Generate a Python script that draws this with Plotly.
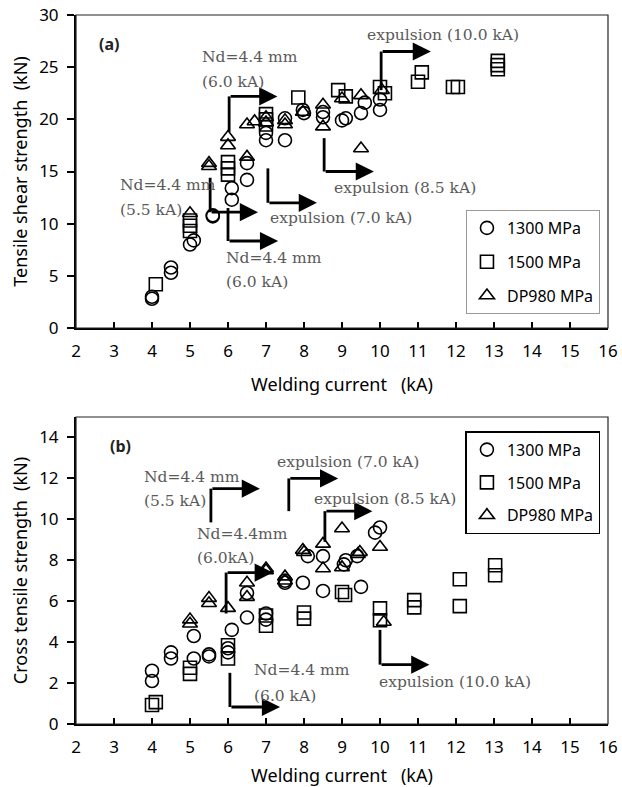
import plotly.graph_objects as go

# ---------------- data: panel (a) tensile shear strength ----------------
a_1300_x = [4.0, 4.0, 4.5, 4.5, 5.0, 5.1, 5.6, 5.6, 6.1, 6.1, 6.5, 6.5, 7.0, 7.0, 7.5, 7.5,
            7.97, 8.0, 8.5, 8.5, 9.0, 9.1, 9.5, 9.6, 10.0, 10.0]
a_1300_y = [3.0, 2.8, 5.8, 5.3, 8.0, 8.4, 10.7, 10.8, 13.4, 12.3, 14.2, 15.8, 18.0, 18.7, 18.0, 20.1,
            20.9, 20.6, 20.2, 20.7, 19.9, 20.1, 20.6, 21.6, 20.9, 21.9]

a_1500_x = [4.1, 5.0, 5.0, 5.0, 6.0, 6.0, 6.0, 7.0, 7.0, 7.0, 7.85, 8.9, 9.1, 10.0, 10.13,
            11.0, 11.1, 11.92, 12.05, 13.1, 13.1, 13.1]
a_1500_y = [4.2, 10.3, 9.8, 9.3, 15.9, 15.3, 14.7, 20.5, 20.0, 19.5, 22.1, 22.8, 22.2, 23.1, 22.5,
            23.6, 24.5, 23.1, 23.1, 25.6, 25.2, 24.8]

a_dp980_x = [5.0, 5.5, 5.5, 6.0, 6.0, 6.5, 6.5, 6.7, 7.0, 7.0, 7.5, 7.5, 7.97, 8.5, 8.5,
             9.0, 9.5, 9.5, 10.05]
a_dp980_y = [11.0, 15.8, 15.5, 18.3, 17.5, 16.4, 19.5, 19.8, 20.2, 19.7, 19.9, 19.5, 20.7, 21.4, 19.3,
             22.0, 22.3, 17.2, 22.8]

# ---------------- data: panel (b) cross tensile strength ----------------
b_1300_x = [4.0, 4.0, 4.5, 4.5, 5.1, 5.1, 5.5, 5.5, 6.0, 6.0, 6.1, 6.5, 6.5, 7.0, 7.0, 7.5, 7.5,
            7.97, 8.1, 8.5, 8.5, 9.05, 9.1, 9.4, 9.5, 9.87, 10.0]
b_1300_y = [2.6, 2.1, 3.5, 3.2, 4.3, 3.2, 3.4, 3.3, 3.7, 3.5, 4.6, 5.2, 6.4, 5.4, 5.1, 7.0, 6.9,
            6.9, 8.2, 8.2, 6.5, 7.8, 8.0, 8.2, 6.7, 9.35, 9.6]

b_1500_x = [4.0, 4.1, 5.0, 5.0, 6.0, 6.0, 7.0, 7.0, 8.0, 8.0, 9.0, 9.08, 10.0, 10.0, 10.9, 10.9,
            12.1, 12.1, 13.03, 13.03]
b_1500_y = [0.93, 1.07, 2.75, 2.45, 3.85, 3.2, 5.3, 4.8, 5.45, 5.15, 6.45, 6.3, 5.65, 5.07, 6.05, 5.7,
            7.07, 5.76, 7.76, 7.27]

b_dp980_x = [5.0, 5.0, 5.5, 5.5, 6.0, 6.5, 6.5, 7.0, 7.0, 7.5, 7.5, 7.97, 8.0, 8.5, 8.5, 9.0, 9.0,
             9.42, 9.47, 10.0, 10.1]
b_dp980_y = [5.1, 4.9, 6.15, 5.9, 5.66, 6.9, 6.2, 7.6, 7.5, 7.2, 7.0, 8.5, 8.4, 8.8, 7.6, 9.55, 7.65,
             8.3, 8.4, 8.65, 4.98]

series_names = ["1300 MPa", "1500 MPa", "DP980 MPa"]
x_ticks = list(range(2, 17))
ya_ticks = [0, 5, 10, 15, 20, 25, 30]
yb_ticks = [0, 2, 4, 6, 8, 10, 12, 14]

# L-shaped arrows: (x_start, y_start, y_corner, x_tip)
a_arrows = [(6.03, 18.8, 22.2, 7.3), (10.03, 22.8, 26.5, 11.34), (8.53, 18.2, 15.0, 9.84),
            (7.05, 15.3, 12.0, 8.34), (5.53, 14.4, 11.1, 6.79), (6.0, 11.5, 8.34, 7.32)]
b_arrows = [(5.55, 9.85, 11.5, 6.84), (7.6, 10.4, 12.0, 8.9), (8.55, 8.9, 10.4, 9.8),
            (5.95, 5.4, 7.4, 7.18), (6.05, 2.5, 0.83, 7.37), (10.0, 4.6, 2.9, 11.3)]

# note labels: (text, x_left, y_center)
a_notes = [("Nd=4.4 mm", 5.26, 26.0), ("(6.0 kA)", 5.26, 23.6),
           ("expulsion (10.0 kA)", 9.6, 28.1), ("expulsion (8.5 kA)", 8.74, 13.4),
           ("expulsion (7.0 kA)", 7.05, 10.55), ("Nd=4.4 mm", 3.1, 13.7), ("(5.5 kA)", 3.1, 11.3),
           ("Nd=4.4 mm", 5.9, 6.7), ("(6.0 kA)", 5.9, 4.4)]
b_notes = [("Nd=4.4 mm", 3.74, 12.05), ("(5.5 kA)", 3.74, 10.9),
           ("expulsion (7.0 kA)", 7.24, 12.8), ("expulsion (8.5 kA)", 8.21, 11.0),
           ("Nd=4.4mm", 5.13, 9.3), ("(6.0kA)", 5.13, 8.1),
           ("Nd=4.4 mm", 6.63, 2.63), ("(6.0 kA)", 6.63, 1.37),
           ("expulsion (10.0 kA)", 9.92, 2.05)]

SANS = "Noto Sans"
SERIF = "DejaVu Serif"
symbols = ["circle-open", "square-open", "triangle-up-open"]
A_DOMAIN = [0.5585, 1]
B_DOMAIN = [0, 0.433]

fig = go.Figure()

panels = [
    ("x", "y", "legend", [(a_1300_x, a_1300_y), (a_1500_x, a_1500_y), (a_dp980_x, a_dp980_y)]),
    ("x2", "y2", "legend2", [(b_1300_x, b_1300_y), (b_1500_x, b_1500_y), (b_dp980_x, b_dp980_y)]),
]
for xa, ya, lg, sets in panels:
    for i, (xs, ys) in enumerate(sets):
        fig.add_trace(go.Scatter(
            x=xs, y=ys, mode="markers", name=series_names[i],
            xaxis=xa, yaxis=ya, legend=lg, legendgroup=lg + str(i),
            marker=dict(symbol=symbols[i], size=13, color="black",
                        line=dict(width=1.6, color="black")),
        ))

shapes = []
annotations = []
for xr, yr, arrows, notes, dom in [("x", "y", a_arrows, a_notes, A_DOMAIN),
                                   ("x2", "y2", b_arrows, b_notes, B_DOMAIN)]:
    for x0, y0, y1, x2 in arrows:
        shapes.append(dict(type="line", xref=xr, yref=yr, x0=x0, y0=y0, x1=x0, y1=y1,
                           opacity=1, layer="above", line=dict(color="black", width=2.8)))
        annotations.append(dict(xref=xr, yref=yr, axref=xr, ayref=yr, x=x2, y=y1, ax=x0, ay=y1,
                                text="", showarrow=True, arrowhead=2, arrowsize=1.3,
                                arrowwidth=2.8, arrowcolor="black", standoff=0, startstandoff=0))
    for t, x, y in notes:
        annotations.append(dict(xref=xr, yref=yr, x=x, y=y, text=t, showarrow=False,
                                xanchor="left", yanchor="middle",
                                font=dict(family=SERIF, size=15.5, color="#5a5a5a")))
    # thin frame (top/right edges) around each panel
    shapes.append(dict(type="rect", xref="paper", yref="paper",
                       x0=0, x1=1, y0=dom[0], y1=dom[1], opacity=1, layer="above",
                       fillcolor="rgba(0,0,0,0)", line=dict(color="#222", width=1.2)))

annotations.append(dict(xref="x", yref="y", x=2.87, y=27.2, text="<b>(a)</b>", showarrow=False,
                        font=dict(family=SANS, size=16, color="#222")))
annotations.append(dict(xref="x2", yref="y2", x=3.16, y=13.6, text="<b>(b)</b>", showarrow=False,
                        font=dict(family=SANS, size=16, color="#222")))

xcommon = dict(range=[2, 16], tickvals=x_ticks, ticks="inside", ticklen=6, tickwidth=2,
               tickcolor="black", showline=True, linecolor="black", linewidth=2, showgrid=False,
               zeroline=False, automargin=False, ticklabeloverflow="allow",
               tickfont=dict(family=SANS, size=17, color="black"), ticklabelstandoff=7)
ycommon = dict(ticks="outside", ticklen=7, tickwidth=2, tickcolor="black", showline=True,
               linecolor="black", linewidth=2, showgrid=False, zeroline=False, automargin=False,
               ticklabeloverflow="allow",
               tickfont=dict(family=SANS, size=17, color="black"), ticklabelstandoff=5)

fig.update_layout(
    width=622, height=787, template="none", paper_bgcolor="white", plot_bgcolor="white",
    margin=dict(l=76, r=14, t=15, b=63),
    font=dict(family=SANS, color="black"),
    xaxis=dict(domain=[0, 1], anchor="y", **xcommon,
               title=dict(text="Welding current\u00a0\u00a0\u00a0(kA)",
                          font=dict(family=SANS, size=18, color="black"), standoff=17)),
    yaxis=dict(domain=A_DOMAIN, anchor="x", range=[0, 30], tickvals=ya_ticks, **ycommon,
               title=dict(text="Tensile shear strength\u00a0\u00a0(kN)",
                          font=dict(family=SANS, size=18, color="black"), standoff=7)),
    xaxis2=dict(domain=[0, 1], anchor="y2", **xcommon,
                title=dict(text="Welding current\u00a0\u00a0\u00a0(kA)",
                           font=dict(family=SANS, size=18, color="black"), standoff=12)),
    yaxis2=dict(domain=B_DOMAIN, anchor="x2", range=[0, 15], tickvals=yb_ticks, **ycommon,
                title=dict(text="Cross tensile strength\u00a0\u00a0(kN)",
                           font=dict(family=SANS, size=18, color="black"), standoff=7)),
    legend=dict(x=0.733, y=0.725, xanchor="left", yanchor="top", bordercolor="#999",
                borderwidth=1, font=dict(family=SANS, size=16, color="black"),
                tracegroupgap=10, bgcolor="white", itemwidth=30),
    legend2=dict(x=0.732, y=0.413, xanchor="left", yanchor="top", bordercolor="black",
                 borderwidth=1.5, font=dict(family=SANS, size=16, color="black"),
                 tracegroupgap=9, bgcolor="white", itemwidth=30),
    shapes=shapes, annotations=annotations, showlegend=True,
)

# remove the default page margin so the figure fills the window exactly
fig.write_html("out.html", config={"displayModeBar": False},
               post_script="document.body.style.margin='0';document.body.style.overflow='hidden';")
